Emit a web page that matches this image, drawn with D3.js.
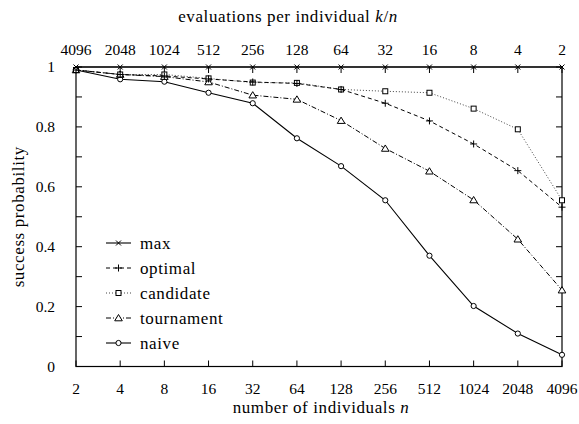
<!DOCTYPE html>
<html>
<head>
<meta charset="utf-8">
<script src="https://cdn.jsdelivr.net/npm/d3@7"></script>
<style>
  body { margin: 0; background: #fff; }
  svg { display: block; }
  svg text { font-family: "Liberation Serif", "Times New Roman", Times, "DejaVu Serif", serif !important; }
</style>
</head>
<body>
<svg id="chart" width="579" height="424"></svg>
<script>
const individuals = [2, 4, 8, 16, 32, 64, 128, 256, 512, 1024, 2048, 4096];
const evalsPerIndividual = [4096, 2048, 1024, 512, 256, 128, 64, 32, 16, 8, 4, 2];
const yTickLabels = [0, 0.2, 0.4, 0.6, 0.8, 1];

const maxVals        = [1, 1, 1, 1, 1, 1, 1, 1, 1, 1, 1, 1];
const optimalVals    = [0.99, 0.975, 0.970, 0.960, 0.950, 0.945, 0.925, 0.879, 0.820, 0.743, 0.654, 0.532];
const candidateVals  = [0.99, 0.975, 0.975, 0.962, 0.948, 0.947, 0.925, 0.919, 0.914, 0.861, 0.792, 0.555];
const tournamentVals = [0.99, 0.975, 0.968, 0.950, 0.906, 0.892, 0.821, 0.728, 0.652, 0.556, 0.425, 0.255];
const naiveVals      = [0.99, 0.959, 0.951, 0.914, 0.879, 0.762, 0.669, 0.555, 0.370, 0.202, 0.110, 0.039];

const seriesNames = ["max", "optimal", "candidate", "tournament", "naive"];

const series = [
  { name: seriesNames[0], values: maxVals, dash: null, color: "#000", width: 1.1, marker: "x" },
  { name: seriesNames[1], values: optimalVals, dash: "4,3", color: "#000", width: 1, marker: "plus" },
  { name: seriesNames[2], values: candidateVals, dash: "1,2", color: "#444", width: 1, marker: "square" },
  { name: seriesNames[3], values: tournamentVals, dash: "5,2,1,2", color: "#000", width: 1, marker: "triangle" },
  { name: seriesNames[4], values: naiveVals, dash: null, color: "#000", width: 1.1, marker: "circle" }
];

const FONT = '"Liberation Serif", "Times New Roman", Times, "DejaVu Serif", serif';
const FS = 15.5;     // numbers
const FSW = 17;      // words

const svg = d3.select("#chart");
const pLeft = 76, pRight = 562, pTop = 67, pBottom = 366.5;

const x = d3.scaleLog().base(2).domain([2, 4096]).range([pLeft, pRight]);
const y = d3.scaleLinear().domain([0, 1]).range([pBottom, pTop]);

svg.append("rect").attr("x", pLeft).attr("y", pTop).attr("width", pRight - pLeft).attr("height", pBottom - pTop)
  .attr("fill", "none").attr("stroke", "#000").attr("stroke-width", 1.2);

const tickLen = 6;
const yTicks = d3.range(0, 11).map(d => d / 10);
const g = svg.append("g").attr("stroke", "#000").attr("stroke-width", 1);
yTicks.forEach(t => {
  g.append("line").attr("x1", pLeft).attr("x2", pLeft + tickLen).attr("y1", y(t)).attr("y2", y(t));
  g.append("line").attr("x1", pRight).attr("x2", pRight - tickLen).attr("y1", y(t)).attr("y2", y(t));
});
individuals.forEach(n => {
  g.append("line").attr("x1", x(n)).attr("x2", x(n)).attr("y1", pBottom).attr("y2", pBottom - tickLen);
  g.append("line").attr("x1", x(n)).attr("x2", x(n)).attr("y1", pTop).attr("y2", pTop + tickLen);
});

function txt(sel, fs) { return sel.style("font-family", FONT).style("font-size", (fs || FS) + "px").attr("fill", "#000"); }
function word(sel) { return txt(sel, FSW).style("letter-spacing", "0.6px"); }

txt(svg.append("g").selectAll("text").data(yTickLabels).join("text"))
  .attr("x", pLeft - 21).attr("y", d => y(d)).attr("dy", "0.35em")
  .attr("text-anchor", "end").text(d => d);

txt(svg.append("g").selectAll("text").data(individuals).join("text"))
  .attr("x", d => x(d)).attr("y", pBottom + 27).attr("text-anchor", "middle")
  .text(d => d);

txt(svg.append("g").selectAll("text").data(evalsPerIndividual).join("text"))
  .attr("x", (d, i) => x(individuals[i])).attr("y", pTop - 12).attr("text-anchor", "middle")
  .text(d => d);

const xt = word(svg.append("text")).attr("x", 321).attr("y", 413).attr("text-anchor", "middle");
xt.append("tspan").text("number of individuals ");
xt.append("tspan").style("font-style", "italic").text("n");

const tt = word(svg.append("text")).attr("x", 288).attr("y", 22).attr("text-anchor", "middle");
tt.append("tspan").text("evaluations per individual ");
tt.append("tspan").style("font-style", "italic").text("k");
tt.append("tspan").text("/");
tt.append("tspan").style("font-style", "italic").text("n");

word(svg.append("text")).attr("transform", `translate(24,${(pTop + pBottom) / 2}) rotate(-90)`)
  .attr("text-anchor", "middle").text("success probability");

function drawMarker(sel, type, cx, cy, color) {
  const s = 2.5;
  if (type === "x") {
    sel.append("path").attr("d", `M${cx - s},${cy - s}L${cx + s},${cy + s}M${cx - s},${cy + s}L${cx + s},${cy - s}`)
      .attr("stroke", color).attr("stroke-width", 1).attr("fill", "none");
  } else if (type === "plus") {
    sel.append("path").attr("d", `M${cx - 3.5},${cy}L${cx + 3.5},${cy}M${cx},${cy - 3.5}L${cx},${cy + 3.5}`)
      .attr("stroke", color).attr("stroke-width", 1).attr("fill", "none");
  } else if (type === "square") {
    sel.append("rect").attr("x", cx - 2.5).attr("y", cy - 2.5).attr("width", 5).attr("height", 5)
      .attr("stroke", "#000").attr("stroke-width", 1).attr("fill", "#fff");
  } else if (type === "triangle") {
    sel.append("path").attr("d", `M${cx},${cy - 3.5}L${cx + 3.8},${cy + 2.8}L${cx - 3.8},${cy + 2.8}Z`)
      .attr("stroke", color).attr("stroke-width", 1).attr("fill", "#fff");
  } else if (type === "circle") {
    sel.append("circle").attr("cx", cx).attr("cy", cy).attr("r", 2.6)
      .attr("stroke", color).attr("stroke-width", 1).attr("fill", "#fff");
  }
}

const line = d3.line().x((d, i) => x(individuals[i])).y(d => y(d));

series.slice().reverse().forEach(s => {
  const gs = svg.append("g");
  gs.append("path").attr("d", line(s.values)).attr("fill", "none")
    .attr("stroke", s.color).attr("stroke-width", s.width)
    .attr("stroke-dasharray", s.dash);
  s.values.forEach((v, i) => drawMarker(gs, s.marker, x(individuals[i]), y(v), "#000"));
});

const legY0 = 243, legStep = 25;
series.forEach((s, i) => {
  const ly = legY0 + i * legStep;
  const gl = svg.append("g");
  gl.append("line").attr("x1", 106).attr("x2", 131).attr("y1", ly).attr("y2", ly)
    .attr("stroke", s.color).attr("stroke-width", s.width).attr("stroke-dasharray", s.dash);
  drawMarker(gl, s.marker, 118.5, ly, "#000");
  word(gl.append("text")).attr("x", 140).attr("y", ly).attr("dy", "0.35em").text(s.name);
});
</script>
</body>
</html>
